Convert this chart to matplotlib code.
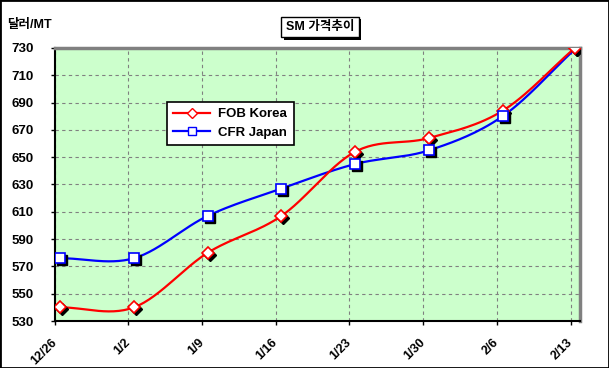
import numpy as np
import matplotlib
matplotlib.use("Agg")
import matplotlib.pyplot as plt
import matplotlib.transforms as mtransforms
import matplotlib.patheffects as pe
from matplotlib.lines import Line2D

plt.rcParams['font.family'] = ['Liberation Sans', 'Noto Sans CJK KR']
plt.rcParams['font.weight'] = 'bold'

# data (days since 12/26, weekly quotes)
tick_labels = ["12/26", "1/2", "1/9", "1/16", "1/23", "1/30", "2/6", "2/13"]
tick_days = [0, 7, 14, 21, 28, 35, 42, 49]
point_days = [0.55, 7.55, 14.55, 21.55, 28.55, 35.55, 42.55, 49.4]
fob_korea = [540, 540, 580, 607, 654, 664, 684, 730]
cfr_japan = [576, 576, 607, 627, 645, 655, 680, 729]


def smooth(x, y, n=30):
    """Catmull-Rom style smoothing, like Excel's smoothed line"""
    x = np.asarray(x, float)
    y = np.asarray(y, float)
    px = np.concatenate([[2 * x[0] - x[1]], x, [2 * x[-1] - x[-2]]])
    py = np.concatenate([[2 * y[0] - y[1]], y, [2 * y[-1] - y[-2]]])
    xs, ys = [], []
    t = np.linspace(0, 1, n)
    for i in range(1, len(px) - 2):
        for arr, out in ((px, xs), (py, ys)):
            p0, p1, p2, p3 = arr[i - 1], arr[i], arr[i + 1], arr[i + 2]
            c = 0.5 * ((2 * p1) + (-p0 + p2) * t + (2 * p0 - 5 * p1 + 4 * p2 - p3) * t ** 2
                       + (-p0 + 3 * p1 - 3 * p2 + p3) * t ** 3)
            out.extend(c)
    return np.array(xs), np.array(ys)


fig = plt.figure(figsize=(6.09, 3.68), dpi=100)
fig.patches.append(plt.Rectangle((0, 0), 1, 1, transform=fig.transFigure,
                                 fill=False, edgecolor='black', linewidth=2))
ax = fig.add_axes([0.0895, 0.1277, 0.863, 0.742])
ax.set_facecolor('#CCFFCC')

shadow = mtransforms.offset_copy(ax.transData, fig=fig, x=2, y=-2, units='dots')

# (values, colour, marker, size, label, which markers to show)
series = [
    (cfr_japan, 'blue', 's', 7, 'CFR Japan', slice(0, 7)),
    (fob_korea, 'red', 'D', 6, 'FOB Korea', slice(0, 8)),
]
for vals, color, marker, ms, label, every in series:
    sx, sy = smooth(point_days, vals)
    ax.plot(sx, sy, color=color, linewidth=1.6, zorder=3)
handles = {}
for vals, color, marker, ms, label, every in series:
    z = 4 if color == 'red' else 6
    ax.plot(point_days, vals, linestyle='none', marker=marker, markersize=ms, markevery=every,
            markerfacecolor='black', markeredgecolor='black', transform=shadow, zorder=z)
    ax.plot(point_days, vals, linestyle='none', marker=marker, markersize=ms, markevery=every,
            markerfacecolor='white', markeredgecolor=color, markeredgewidth=1.2, zorder=z + 1)
    handles[label] = Line2D([], [], color=color, linewidth=1.6, marker=marker,
                            markersize=ms - 1, markerfacecolor='white',
                            markeredgecolor=color, label=label)

# last diamond sits on top of the blue line end
ax.plot(point_days[-1:], fob_korea[-1:], linestyle='none', marker='D', markersize=6,
        markerfacecolor='black', markeredgecolor='black', transform=shadow, zorder=8)
ax.plot(point_days[-1:], fob_korea[-1:], linestyle='none', marker='D', markersize=6,
        markerfacecolor='white', markeredgecolor='red', markeredgewidth=1.2, zorder=9)

ax.set_xlim(0, 49.9)
ax.set_ylim(530, 730)
ax.set_yticks(np.arange(530, 731, 20))
ax.set_xticks(tick_days)
ax.set_xticklabels(tick_labels, rotation=45, ha='right', rotation_mode='anchor')
ax.tick_params(axis='y', labelsize=9.5, length=3, width=1, pad=12)
ax.tick_params(axis='x', labelsize=9, length=3, width=1, pad=8)
# nudge the rotated labels a little to the left, like the original
shift = mtransforms.ScaledTranslation(-4 / 100, 0, fig.dpi_scale_trans)
for lbl in ax.get_xticklabels():
    lbl.set_transform(lbl.get_transform() + shift)
ax.grid(True, color='#808080', linestyle=(0, (3, 3)), linewidth=0.8)
ax.set_axisbelow(True)

for side in ('left', 'bottom'):
    ax.spines[side].set_color('black')
    ax.spines[side].set_linewidth(1.5)
for side in ('top', 'right'):
    ax.spines[side].set_color('#808080')
    ax.spines[side].set_linewidth(2.5)

leg = ax.legend(handles=[handles['FOB Korea'], handles['CFR Japan']], loc='upper left',
                bbox_to_anchor=(160 / 609, 1 - 95 / 368),
                bbox_transform=fig.transFigure, fontsize=9.5, frameon=True, fancybox=False,
                framealpha=1, edgecolor='black', borderpad=0.5, handlelength=2.8,
                labelspacing=0.45, handletextpad=0.6)
leg.get_frame().set_linewidth(1.2)
leg.set_zorder(10)

fig.text(7 / 609, 1 - 25 / 368, '달러/MT', fontsize=9, fontweight='bold', va='center')

t = fig.text(320 / 609, 1 - 27 / 368, 'SM 가격추이', fontsize=9, fontweight='bold',
             ha='center', va='center',
             bbox=dict(boxstyle='square,pad=0.35', facecolor='white', edgecolor='black',
                       linewidth=1))
t.get_bbox_patch().set_path_effects([
    pe.SimplePatchShadow(offset=(2, -2), shadow_rgbFace='black', alpha=1),
    pe.Normal()])

fig.savefig('out.png', dpi=100)
